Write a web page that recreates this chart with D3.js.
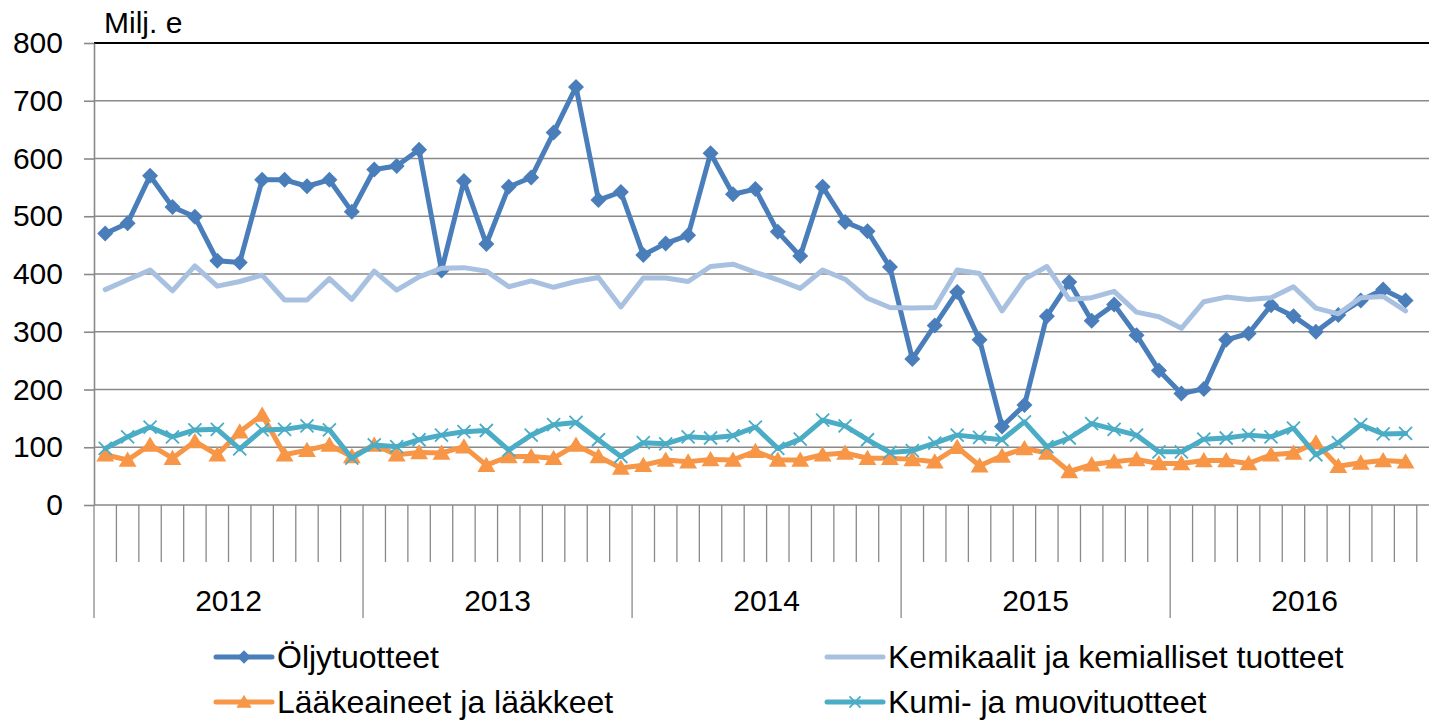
<!DOCTYPE html>
<html><head><meta charset="utf-8">
<script src="https://cdn.jsdelivr.net/npm/d3@7"></script>
<style>html,body{margin:0;padding:0;background:#fff;overflow:hidden}</style>
</head><body><svg id="c" width="1429" height="720"></svg>
<script>
// ---- data ----
const years = ["2012", "2013", "2014", "2015", "2016"];
const monthsPerYear = 12;
const yTicks = [0, 100, 200, 300, 400, 500, 600, 700, 800];
const unitLabel = "Milj. e";
const seriesNames = ["Öljytuotteet", "Kemikaalit ja kemialliset tuotteet", "Lääkeaineet ja lääkkeet", "Kumi- ja muovituotteet"];

const oljy = [470, 488, 570, 516, 499, 423, 420, 563, 563, 552, 563, 508,
              581, 587, 615, 406, 561, 452, 551, 567, 645, 724, 528, 542,
              433, 453, 467, 609, 538, 547, 473, 431, 551, 490, 474, 412,
              253, 311, 369, 286, 136, 173, 327, 386, 319, 347, 294, 233,
              193, 201, 286, 297, 346, 327, 300, 329, 354, 373, 354];
const kemikaalit = [373, 390, 407, 371, 414, 379, 387, 398, 355, 355, 392, 356,
                    405, 372, 395, 410, 411, 405, 378, 388, 377, 387, 394, 343,
                    393, 393, 387, 413, 417, 403, 390, 375, 407, 391, 358, 342,
                    341, 342, 407, 401, 336, 391, 413, 356, 359, 370, 334, 326,
                    306, 352, 360, 356, 359, 378, 341, 331, 359, 361, 336];
const laake = [87, 78, 104, 81, 110, 87, 127, 156, 87, 95, 104, 84,
               104, 87, 91, 90, 101, 69, 84, 84, 81, 104, 84, 64,
               69, 78, 75, 79, 78, 93, 78, 78, 87, 90, 81, 81,
               79, 75, 100, 68, 85, 98, 90, 58, 70, 75, 79, 72,
               72, 77, 77, 72, 87, 90, 108, 67, 73, 77, 75];
const kumi = [98, 118, 135, 118, 130, 131, 97, 130, 131, 137, 130, 81,
              104, 101, 113, 121, 127, 129, 95, 121, 139, 143, 113, 84,
              108, 106, 118, 116, 120, 135, 98, 114, 147, 137, 113, 91,
              94, 107, 121, 117, 113, 144, 101, 116, 141, 131, 121, 92,
              92, 114, 116, 121, 118, 133, 87, 108, 139, 123, 124];

// ---- build ----
const categories = [];
years.forEach(yr => { for (let m = 1; m <= monthsPerYear; m++) categories.push(yr + "-" + m); });

const svg = d3.select("#c");
const plotLeft = 94, plotTop = 43, plotBottom = 505, step = 22.42, svgW = 1429;
const x = d3.scaleBand().domain(categories).range([plotLeft, plotLeft + step * categories.length]).padding(0);
const y = d3.scaleLinear().domain([0, 800]).range([plotBottom, plotTop]);
const bw = x.bandwidth();
const cx = (d, i) => x(categories[i]) + bw / 2;

const font = "'Liberation Sans', Arial, sans-serif";
const grid = "#898989";

// gridlines
svg.append("g").selectAll("line").data(yTicks.filter(t => t > 0 && t < 800)).join("line")
  .attr("x1", plotLeft).attr("x2", svgW).attr("y1", d => y(d)).attr("y2", d => y(d))
  .attr("stroke", grid).attr("stroke-width", 1.6);
// top border
svg.append("line").attr("x1", plotLeft).attr("x2", svgW).attr("y1", y(800)).attr("y2", y(800))
  .attr("stroke", "#000").attr("stroke-width", 2.2);

// y axis
const yAxis = d3.axisLeft(y).tickValues(yTicks).tickSize(10).tickSizeOuter(0).tickPadding(21);
const ya = svg.append("g").attr("transform", `translate(${plotLeft},0)`).call(yAxis);
ya.select(".domain").attr("stroke", grid).attr("stroke-width", 1.6);
ya.selectAll(".tick line").attr("stroke", grid).attr("stroke-width", 1.6);
ya.selectAll(".tick text").attr("font-family", font).attr("font-size", 30).attr("fill", "#000");

// x axis baseline
svg.append("line").attr("x1", plotLeft).attr("x2", svgW).attr("y1", plotBottom).attr("y2", plotBottom)
  .attr("stroke", grid).attr("stroke-width", 1.6);
// month ticks
svg.append("g").selectAll("line").data(categories).join("line")
  .attr("x1", d => x(d)).attr("x2", d => x(d))
  .attr("y1", plotBottom).attr("y2", (d, i) => i % monthsPerYear === 0 ? 618 : 562)
  .attr("stroke", grid).attr("stroke-width", 1.3);
// year labels
svg.append("g").selectAll("text").data(years).join("text")
  .attr("x", yr => (x(yr + "-1") + x(yr + "-" + monthsPerYear) + bw) / 2)
  .attr("y", 611).attr("text-anchor", "middle")
  .attr("font-family", font).attr("font-size", 30).text(d => d);

// unit label
svg.append("text").attr("x", 104).attr("y", 33).attr("font-family", font).attr("font-size", 30).text(unitLabel);

// series
const colors = ["#4A7EBB", "#A9C1E0", "#F79646", "#4BACC6"];
const data = [oljy, kemikaalit, laake, kumi];
const line = d3.line().x(cx).y(d => y(d));

const diamond = s => `M0,${-s}L${s},0L0,${s}L${-s},0Z`;
const tri = s => `M0,${-s}L${s * 1.05},${s * 0.8}L${-s * 1.05},${s * 0.8}Z`;
const cross = s => `M${-s},${-s}L${s},${s}M${-s},${s}L${s},${-s}`;

function markers(g, kind, color, scale) {
  if (kind === 0) g.append("path").attr("d", diamond(8 * scale)).attr("fill", color);
  if (kind === 2) g.append("path").attr("d", tri(8.5 * scale)).attr("fill", color);
  if (kind === 3) g.append("path").attr("d", cross(6.5 * scale)).attr("stroke", color).attr("stroke-width", 1.8).attr("fill", "none");
}

data.forEach((vals, k) => {
  const g = svg.append("g");
  g.append("path").datum(vals).attr("d", line).attr("fill", "none")
    .attr("stroke", colors[k]).attr("stroke-width", 5)
    .attr("stroke-linejoin", "round").attr("stroke-linecap", "round");
  if (k !== 1) {
    g.selectAll("g.m").data(vals).join("g").attr("class", "m")
      .attr("transform", (d, i) => `translate(${cx(d, i)},${y(d)})`)
      .each(function () { markers(d3.select(this), k, colors[k], 1); });
  }
});

// legend
const legendPos = [[216, 657], [827, 657], [216, 702], [827, 702]];
seriesNames.forEach((name, k) => {
  const [lx, ly] = legendPos[k];
  const g = svg.append("g").attr("transform", `translate(${lx},${ly})`);
  g.append("line").attr("x1", 0).attr("x2", 56).attr("y1", 0).attr("y2", 0)
    .attr("stroke", colors[k]).attr("stroke-width", 5).attr("stroke-linecap", "round");
  const mg = g.append("g").attr("transform", "translate(28,0)");
  markers(mg, k, colors[k], 0.85);
  g.append("text").attr("x", 61).attr("y", 11).attr("font-family", font).attr("font-size", 32).text(name);
});
</script>
</body></html>
